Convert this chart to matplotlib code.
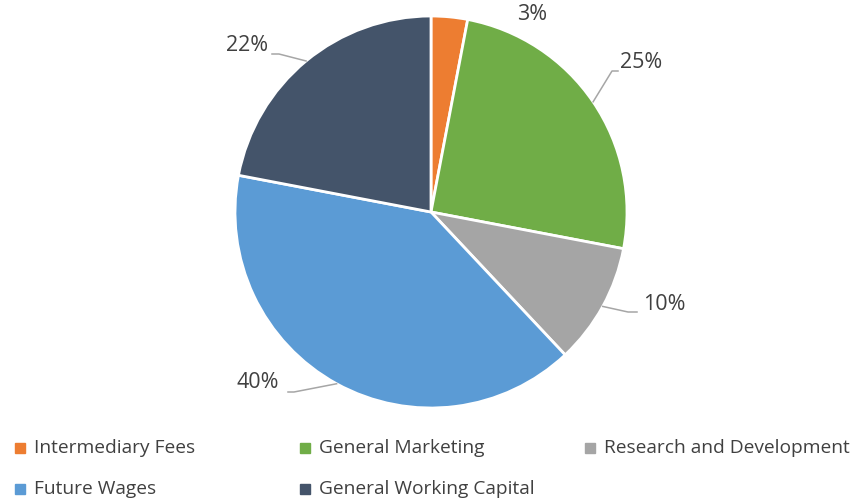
import numpy as np
import matplotlib
matplotlib.use("Agg")
import matplotlib.pyplot as plt
from matplotlib.patches import Rectangle

categories = ["Intermediary Fees", "General Marketing", "Research and Development",
              "Future Wages", "General Working Capital"]
values = [3, 25, 10, 40, 22]
colors = ["#ED7D31", "#70AD47", "#A5A5A5", "#5B9BD5", "#44546A"]

W, H = 858, 498
fig = plt.figure(figsize=(W / 100, H / 100), dpi=100)
plt.rcParams['font.family'] = ['Open Sans', 'DejaVu Sans']

cx, cy, R = 431, 212, 196
ax = fig.add_axes([(cx - R) / W, (H - cy - R) / H, 2 * R / W, 2 * R / H])
wedges, _ = ax.pie(values, colors=colors, startangle=90, counterclock=False,
                   radius=1, wedgeprops=dict(edgecolor="white", linewidth=2))
ax.set_xlim(-1, 1)
ax.set_ylim(-1, 1)
ax.set_aspect("equal")
ax.axis("off")

def px(x, y):
    return ((x - cx) / R, (cy - y) / R)

# label centers (pixel) and leader elbows (pixel) -- layout
label_pos = [(532, 15), (641, 62), (664, 304), (258, 383), (247, 46)]
elbows = [None, [(618, 71), (612, 71)], [(637, 312), (628, 312)],
          [(288, 392), (294, 392)], [(272, 54), (279, 54)]]

for w, v, lp, el in zip(wedges, values, label_pos, elbows):
    x, y = px(*lp)
    ax.text(x, y, f"{v}%", ha="center", va="center", fontsize=15.5, color="#404040")
    if el is not None:
        ang = np.deg2rad((w.theta1 + w.theta2) / 2)
        ex, ey = np.cos(ang), np.sin(ang)
        pts = [px(*p) for p in el] + [(ex, ey)]
        xs, ys = zip(*pts)
        ax.plot(xs, ys, color="#A6A6A6", lw=1.1, clip_on=False)

# legend (manual layout)
order = [0, 3, 1, 4, 2]
col_x = [15, 300, 585]
row_y = [448, 489]
for k, idx in enumerate(order):
    c, r = k // 2, k % 2
    x0, y0 = col_x[c], row_y[r]
    fig.add_artist(Rectangle((x0 / W, (H - y0 - 5) / H), 10 / W, 10 / H,
                             transform=fig.transFigure, color=colors[idx]))
    fig.text((x0 + 19) / W, (H - y0) / H, categories[idx], ha="left", va="center",
             fontsize=13.8, color="#404040")

fig.savefig("out.png", dpi=100)
